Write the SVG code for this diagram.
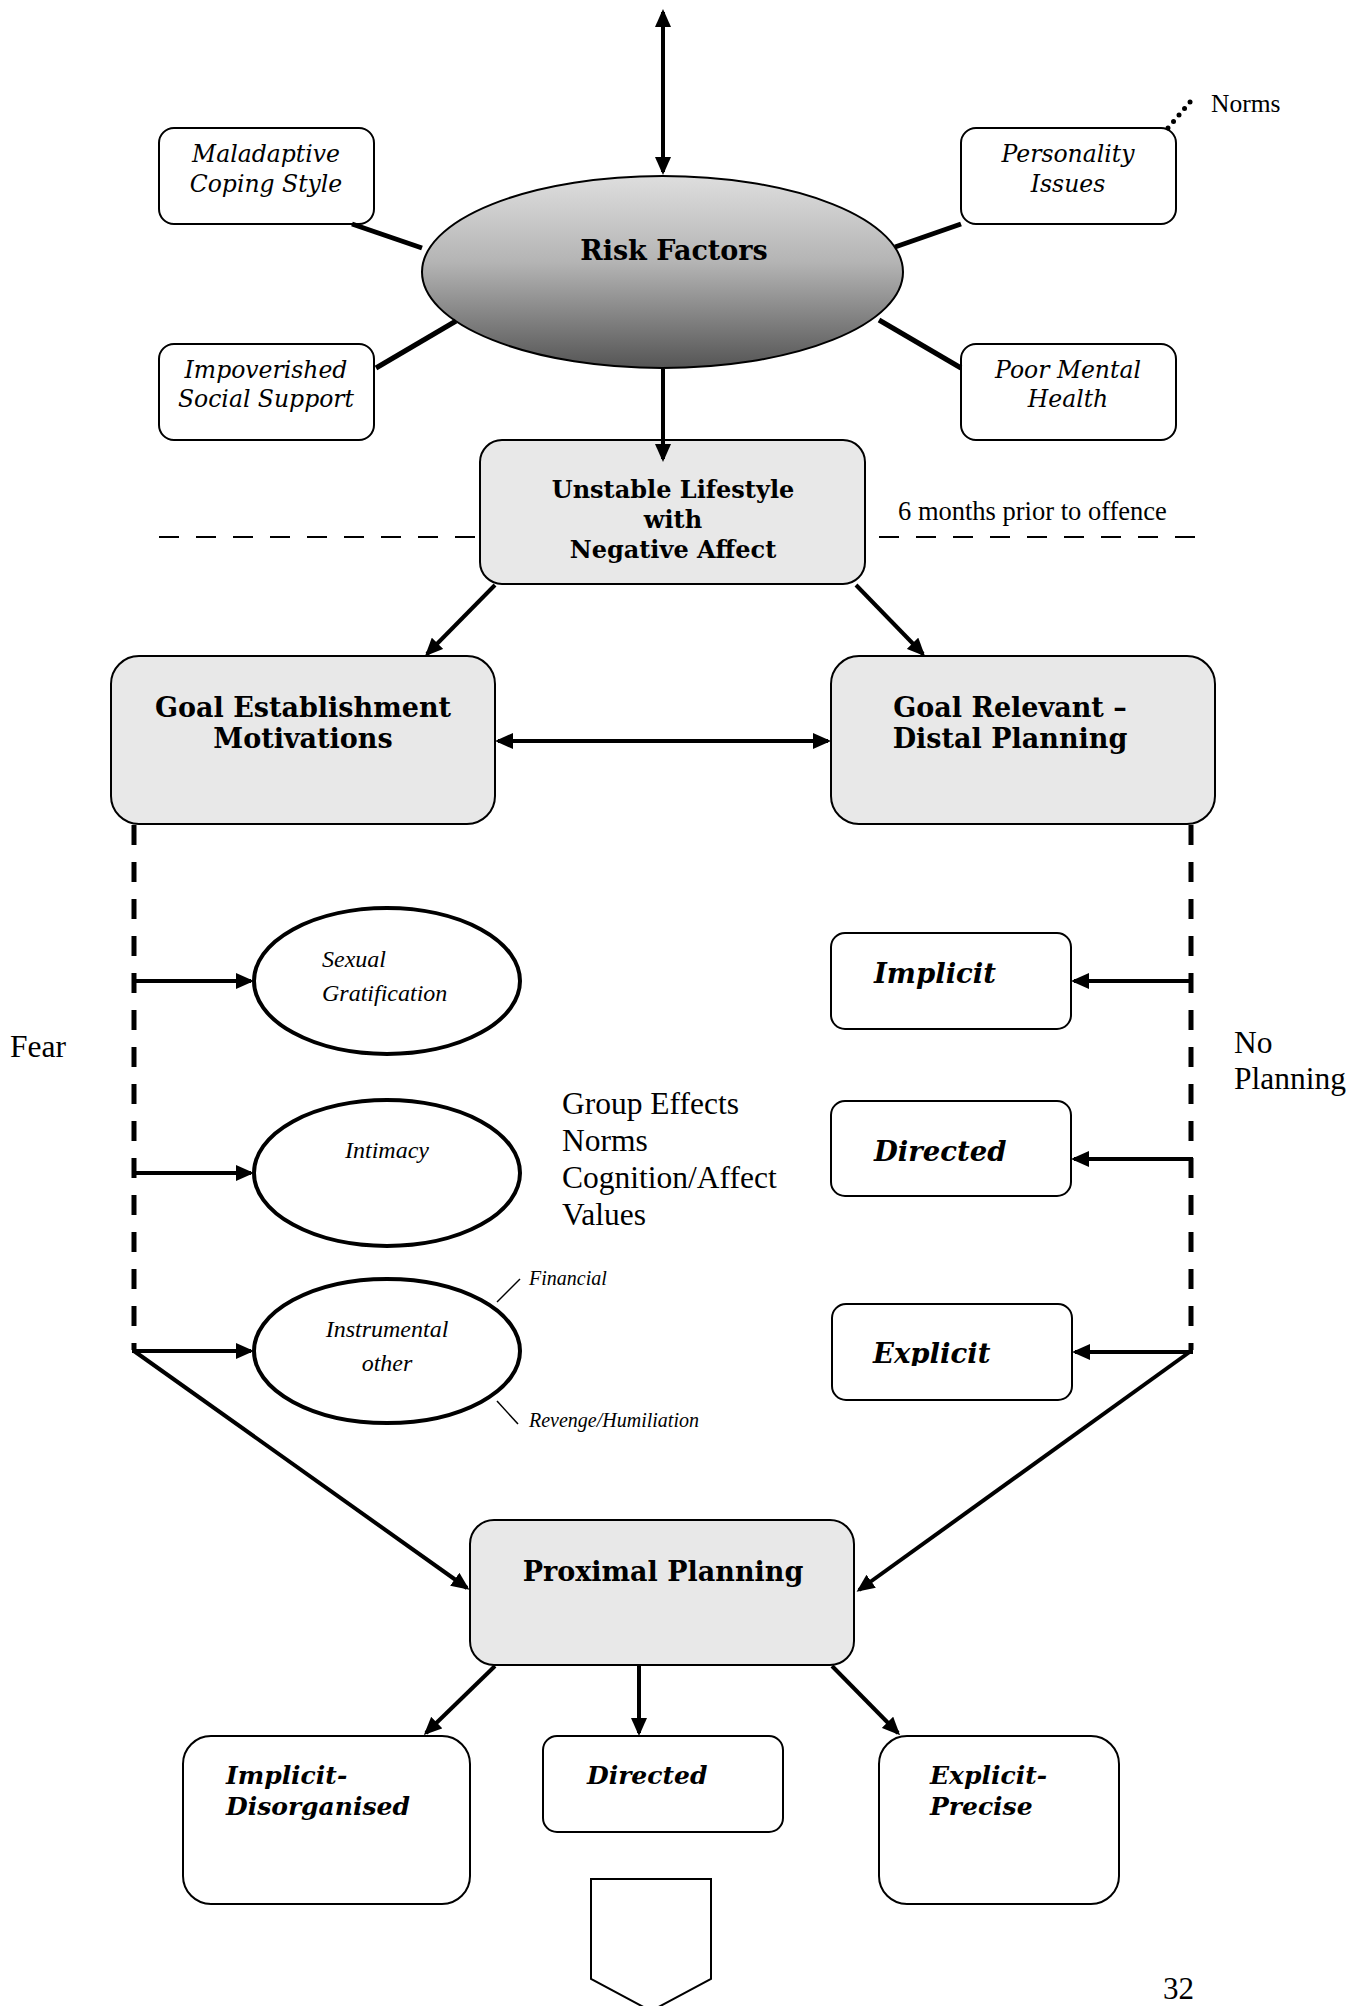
<svg xmlns="http://www.w3.org/2000/svg" width="1366" height="2006" viewBox="0 0 1366 2006">
<defs>
<linearGradient id="rg" x1="0" y1="0" x2="0" y2="1">
<stop offset="0" stop-color="#dedede"/>
<stop offset="0.45" stop-color="#b4b4b4"/>
<stop offset="1" stop-color="#555555"/>
</linearGradient>
<marker id="ah" viewBox="0 0 18 16" markerWidth="18" markerHeight="16" refX="15" refY="8" markerUnits="userSpaceOnUse" orient="auto-start-reverse">
<path d="M0,0 L18,8 L0,16 z" fill="#000"/>
</marker>
<clipPath id="clipExplicit"><rect x="832" y="1304" width="240" height="62"/></clipPath>
</defs>
<style>
.box{fill:#fff;stroke:#000;stroke-width:2}
.gbox{fill:#e8e8e8;stroke:#000;stroke-width:2}
.ell{fill:#fff;stroke:#000;stroke-width:4}
.con{stroke:#000;stroke-width:4;fill:none}
.arr{stroke:#000;stroke-width:4;fill:none;marker-end:url(#ah)}
.dv{stroke:#000;stroke-width:5;fill:none;stroke-dasharray:20 17}
.dh{stroke:#000;stroke-width:2;fill:none;stroke-dasharray:20 17}
.hb{font-family:"DejaVu Serif","Liberation Serif",serif;font-weight:bold;fill:#000;text-anchor:middle}
.gi{font-family:"DejaVu Serif","Liberation Serif",serif;font-style:italic;fill:#000;font-size:23.5px;text-anchor:middle}
.bi{font-family:"DejaVu Serif","Liberation Serif",serif;font-style:italic;font-weight:bold;fill:#000}
.gar{font-family:"Liberation Serif",serif;fill:#000}
.garI{font-family:"Liberation Serif",serif;font-style:italic;fill:#000}
.tnr{font-family:"Liberation Serif",serif;fill:#000;font-size:31.5px}
</style>

<g id="risk-factors">
<ellipse cx="662.5" cy="272" rx="240.5" ry="96" fill="url(#rg)" stroke="#000" stroke-width="2"/>
<text class="hb" x="674" y="260" font-size="27">Risk Factors</text>
</g>
<g id="maladaptive">
<rect class="box" x="159" y="128" width="215" height="96" rx="15"/>
<text class="gi" x="266" y="162">Maladaptive</text>
<text class="gi" x="266" y="192">Coping Style</text>
</g>
<g id="personality">
<rect class="box" x="961" y="128" width="215" height="96" rx="15"/>
<text class="gi" x="1068" y="162">Personality</text>
<text class="gi" x="1068" y="192">Issues</text>
</g>
<g id="impoverished">
<rect class="box" x="159" y="344" width="215" height="96" rx="15"/>
<text class="gi" x="266" y="378">Impoverished</text>
<text class="gi" x="266" y="407">Social Support</text>
</g>
<g id="poor-mental-health">
<rect class="box" x="961" y="344" width="215" height="96" rx="15"/>
<text class="gi" x="1068" y="378">Poor Mental</text>
<text class="gi" x="1068" y="407">Health</text>
</g>
<g id="norms-label">
<text class="gar" x="1211" y="112" font-size="25.5">Norms</text>
</g>
<g id="unstable">
<rect class="gbox" x="480" y="440" width="385" height="144" rx="22"/>
<text class="hb" x="673" y="498" font-size="24">Unstable Lifestyle</text>
<text class="hb" x="673" y="528" font-size="24">with</text>
<text class="hb" x="673" y="558" font-size="24">Negative Affect</text>
</g>
<g id="six-months">
<text class="gar" x="898" y="520" font-size="26.5">6 months prior to offence</text>
</g>
<g id="goal-establishment">
<rect class="gbox" x="111" y="656" width="384" height="168" rx="28"/>
<text class="hb" x="303" y="717" font-size="27">Goal Establishment</text>
<text class="hb" x="303" y="748" font-size="27">Motivations</text>
</g>
<g id="goal-relevant">
<rect class="gbox" x="831" y="656" width="384" height="168" rx="28"/>
<text class="hb" x="1010" y="717" font-size="27">Goal Relevant –</text>
<text class="hb" x="1010" y="748" font-size="27">Distal Planning</text>
</g>
<g id="fear">
<text class="tnr" x="10" y="1057">Fear</text>
</g>
<g id="no-planning">
<text class="tnr" x="1234" y="1053">No</text>
<text class="tnr" x="1234" y="1089">Planning</text>
</g>
<g id="sexual">
<ellipse class="ell" cx="387" cy="981" rx="133" ry="73"/>
<text class="garI" x="322" y="967" font-size="24">Sexual</text>
<text class="garI" x="322" y="1001" font-size="24">Gratification</text>
</g>
<g id="intimacy">
<ellipse class="ell" cx="387" cy="1173" rx="133" ry="73"/>
<text class="garI" x="387" y="1158" font-size="24" text-anchor="middle">Intimacy</text>
</g>
<g id="instrumental">
<ellipse class="ell" cx="387" cy="1351" rx="133" ry="72"/>
<text class="garI" x="387" y="1337" font-size="24" text-anchor="middle">Instrumental</text>
<text class="garI" x="387" y="1371" font-size="24" text-anchor="middle">other</text>
</g>
<g id="financial">
<text class="garI" x="529" y="1285" font-size="20">Financial</text>
</g>
<g id="revenge">
<text class="garI" x="529" y="1427" font-size="20">Revenge/Humiliation</text>
</g>
<g id="group-effects">
<text class="tnr" x="562" y="1114">Group Effects</text>
<text class="tnr" x="562" y="1151">Norms</text>
<text class="tnr" x="562" y="1188">Cognition/Affect</text>
<text class="tnr" x="562" y="1225">Values</text>
</g>
<g id="implicit">
<rect class="box" x="831" y="933" width="240" height="96" rx="14"/>
<text class="bi" x="874" y="983" font-size="27.5">Implicit</text>
</g>
<g id="directed">
<rect class="box" x="831" y="1101" width="240" height="95" rx="14"/>
<text class="bi" x="874" y="1161" font-size="27.5">Directed</text>
</g>
<g id="explicit">
<rect class="box" x="832" y="1304" width="240" height="96" rx="14"/>
<text class="bi" x="873" y="1363" font-size="27.5" clip-path="url(#clipExplicit)">Explicit</text>
</g>
<g id="proximal-planning">
<rect class="gbox" x="470" y="1520" width="384" height="145" rx="24"/>
<text class="hb" x="663" y="1581" font-size="27">Proximal Planning</text>
</g>
<g id="implicit-disorganised">
<rect class="box" x="183" y="1736" width="287" height="168" rx="28"/>
<text class="bi" x="226" y="1784" font-size="25">Implicit-</text>
<text class="bi" x="226" y="1815" font-size="25">Disorganised</text>
</g>
<g id="directed-bottom">
<rect class="box" x="543" y="1736" width="240" height="96" rx="14"/>
<text class="bi" x="587" y="1784" font-size="25">Directed</text>
</g>
<g id="explicit-precise">
<rect class="box" x="879" y="1736" width="240" height="168" rx="28"/>
<text class="bi" x="930" y="1784" font-size="25">Explicit-</text>
<text class="bi" x="930" y="1815" font-size="25">Precise</text>
</g>
<g id="down-shape">
<polygon points="591,1879 711,1879 711,1979 651,2011 591,1979" fill="#fff" stroke="#000" stroke-width="2"/>
</g>
<g id="page-number">
<text class="tnr" x="1163" y="1999" style="font-size:31px">32</text>
</g>

<g id="connectors">
<line class="arr" x1="663" y1="172" x2="663" y2="12" marker-start="url(#ah)"/>
<line class="arr" x1="663" y1="369" x2="663" y2="459"/>
<line class="con" style="stroke-width:5" x1="352" y1="224" x2="422" y2="248"/>
<line class="con" style="stroke-width:5" x1="376" y1="368" x2="456" y2="321"/>
<line class="con" style="stroke-width:5" x1="895" y1="247" x2="961" y2="224"/>
<line class="con" style="stroke-width:5" x1="879" y1="320" x2="961" y2="368"/>
<line x1="1168" y1="128" x2="1191" y2="101" stroke="#000" stroke-width="5" stroke-linecap="round" stroke-dasharray="0 8.5"/>
<line class="dh" x1="159" y1="537" x2="480" y2="537"/>
<line class="dh" x1="879" y1="537" x2="1199" y2="537"/>
<line class="arr" x1="495" y1="585" x2="427" y2="654"/>
<line class="arr" x1="856" y1="585" x2="923" y2="654"/>
<line class="arr" x1="498" y1="741" x2="828" y2="741" marker-start="url(#ah)"/>
<line class="dv" x1="134" y1="825" x2="134" y2="1350"/>
<line class="dv" x1="1191" y1="825" x2="1191" y2="1350"/>
<line class="arr" x1="132" y1="981" x2="251" y2="981"/>
<line class="arr" x1="132" y1="1173" x2="251" y2="1173"/>
<line class="arr" x1="132" y1="1351" x2="251" y2="1351"/>
<line class="arr" x1="1193" y1="981" x2="1074" y2="981"/>
<line class="arr" x1="1193" y1="1159" x2="1074" y2="1159"/>
<line class="arr" x1="1193" y1="1352" x2="1075" y2="1352"/>
<line class="arr" x1="134" y1="1351" x2="467" y2="1588"/>
<line class="arr" x1="1191" y1="1351" x2="859" y2="1590"/>
<line class="arr" x1="495" y1="1666" x2="426" y2="1733"/>
<line class="arr" x1="639" y1="1666" x2="639" y2="1733"/>
<line class="arr" x1="832" y1="1666" x2="898" y2="1733"/>
<line x1="497" y1="1302" x2="520" y2="1279" stroke="#000" stroke-width="1.5"/>
<line x1="497" y1="1401" x2="518" y2="1424" stroke="#000" stroke-width="1.5"/>
</g>
</svg>
